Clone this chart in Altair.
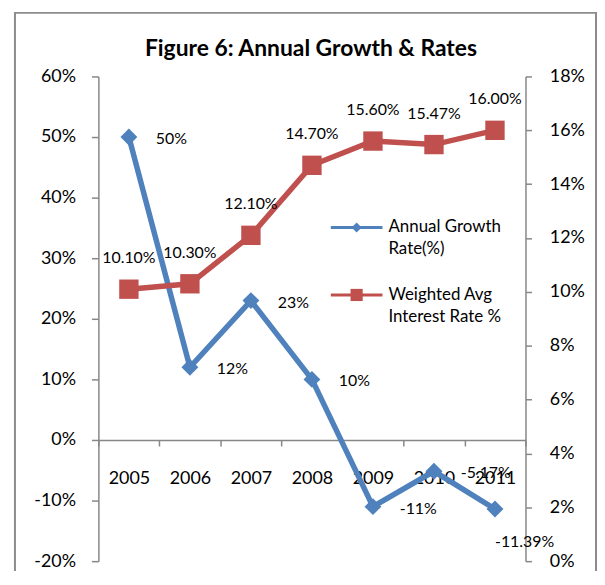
import altair as alt
import pandas as pd

years = ["2005", "2006", "2007", "2008", "2009", "2010", "2011"]
growth = [50, 12, 23, 10, -11, -5.17, -11.39]
rates = [10.10, 10.30, 12.10, 14.70, 15.60, 15.47, 16.00]
growth_labels = ["50%", "12%", "23%", "10%", "-11%", "-5.17%", "-11.39%"]
rate_labels = ["10.10%", "10.30%", "12.10%", "14.70%", "15.60%", "15.47%", "16.00%"]
left_ticks = [-20, -10, 0, 10, 20, 30, 40, 50, 60]
right_ticks = [0, 2, 4, 6, 8, 10, 12, 14, 16, 18]
title_text = "Figure 6: Annual Growth & Rates"
legend_names = ["Annual Growth\nRate(%)", "Weighted Avg\nInterest Rate %"]

BLUE = "#4F81BD"
RED = "#C0504D"
GRAY = "#878787"
FONT = "Lato"

df = pd.DataFrame({"year": years, "growth": growth, "rate": rates,
                   "glabel": growth_labels, "rlabel": rate_labels})

W, H = 430, 488

x_axis = alt.Axis(title=None, orient="bottom", offset=-122, tickBand="extent",
                  tickSize=6, labelPadding=24, labelAngle=0, labelFontSize=18,
                  labelFont=FONT, labelColor="#000", domainColor=GRAY,
                  tickColor=GRAY, domainWidth=1.5, tickWidth=1.5, grid=False)
x_scale = alt.Scale(type="band", paddingInner=0, paddingOuter=0)


def xe():
    return alt.X("year:O", bandPosition=0.5, scale=x_scale, axis=x_axis)


yl_scale = alt.Scale(domain=[-20, 60], nice=False, zero=False)
yr_scale = alt.Scale(domain=[0, 18], nice=False, zero=False)
yl_axis = alt.Axis(title=None, orient="left", values=left_ticks,
                   labelExpr="datum.value + '%'", grid=False, tickSize=7,
                   labelPadding=16, labelFontSize=18, labelFont=FONT,
                   labelColor="#000", domainColor=GRAY, tickColor=GRAY,
                   domainWidth=1.5, tickWidth=1.5)
yr_axis = alt.Axis(title=None, orient="right", values=right_ticks,
                   labelExpr="datum.value + '%'", grid=False, tickSize=6,
                   labelPadding=18, labelFontSize=18, labelFont=FONT,
                   labelColor="#000", domainColor=GRAY, tickColor=GRAY,
                   domainWidth=1.5, tickWidth=1.5)


def yl():
    return alt.Y("growth:Q", scale=yl_scale, axis=yl_axis)


def yr():
    return alt.Y("rate:Q", scale=yr_scale, axis=yr_axis)


base = alt.Chart(df)

blue_line = base.mark_line(color=BLUE, strokeWidth=5.5).encode(x=xe(), y=yl())
blue_pts = base.mark_point(shape="diamond", filled=True, size=289, color=BLUE,
                           opacity=1).encode(x=xe(), y=yl())
blue_lbl = base.transform_filter("datum.year != '2011'").mark_text(
    align="left", baseline="middle", dx=27, dy=2, fontSize=16, font=FONT,
    color="#000").encode(x=xe(), y=yl(), text="glabel:N")
blue_lbl2 = base.transform_filter("datum.year == '2011'").mark_text(
    align="left", baseline="middle", dx=0, dy=33, fontSize=16, font=FONT,
    color="#000").encode(x=xe(), y=yl(), text="glabel:N")
blue = alt.layer(blue_line, blue_pts, blue_lbl, blue_lbl2)

red_line = base.mark_line(color=RED, strokeWidth=5.5).encode(x=xe(), y=yr())
red_pts = base.mark_point(shape="square", filled=True, size=380, color=RED,
                          opacity=1).encode(x=xe(), y=yr())
red_lbl = base.mark_text(align="center", baseline="middle", dy=-31, fontSize=16,
                         font=FONT, color="#000").encode(x=xe(), y=yr(), text="rlabel:N")
red = alt.layer(red_line, red_pts, red_lbl)

one = alt.Chart(pd.DataFrame({"t": [title_text]}))
frame = one.mark_rect(fill=None, stroke="#8c8c8c", strokeWidth=2).encode(
    x=alt.value(-84), x2=alt.value(501), y=alt.value(-64), y2=alt.value(H + 40))
title = one.mark_text(fontSize=23, fontWeight="bold", font=FONT, color="#000",
                      align="center", baseline="middle").encode(
    x=alt.value(W / 2 - 1), y=alt.value(-28), text="t:N")

leg_blue_line = one.mark_rule(color=BLUE, strokeWidth=3).encode(
    x=alt.value(234), x2=alt.value(286), y=alt.value(152))
leg_blue_pt = one.mark_point(shape="diamond", filled=True, size=100, color=BLUE,
                             opacity=1).encode(x=alt.value(260), y=alt.value(152))
leg_blue_txt = one.mark_text(align="left", baseline="middle", fontSize=17, font=FONT,
                             color="#000", lineBreak="\n", lineHeight=22).encode(
    x=alt.value(292), y=alt.value(152), text=alt.value(legend_names[0]))
leg_red_line = one.mark_rule(color=RED, strokeWidth=3).encode(
    x=alt.value(234), x2=alt.value(286), y=alt.value(220))
leg_red_pt = one.mark_point(shape="square", filled=True, size=150, color=RED,
                            opacity=1).encode(x=alt.value(260), y=alt.value(220))
leg_red_txt = one.mark_text(align="left", baseline="middle", fontSize=17, font=FONT,
                            color="#000", lineBreak="\n", lineHeight=22).encode(
    x=alt.value(292), y=alt.value(220), text=alt.value(legend_names[1]))

chart = alt.layer(
    frame, title, blue, red,
    leg_blue_line, leg_blue_pt, leg_blue_txt, leg_red_line, leg_red_pt, leg_red_txt
).resolve_scale(y="independent").properties(
    width=W, height=H,
    autosize=alt.AutoSizeParams(type="none"),
    padding={"left": 91, "top": 67, "right": 72, "bottom": 8},
    background="white",
).configure_view(stroke=None)

chart.save("out.html", embed_options={"renderer": "svg", "actions": False})
